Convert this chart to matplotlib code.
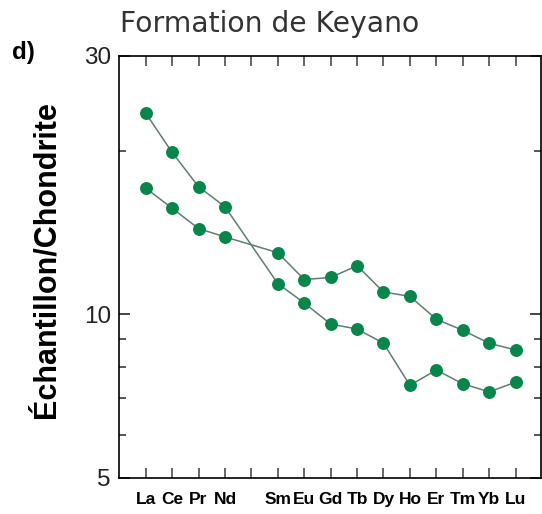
import numpy as np
import matplotlib.pyplot as plt
from matplotlib.ticker import FixedLocator, NullFormatter

# Chondrite-normalised REE pattern
ree_axis = ['La', 'Ce', 'Pr', 'Nd', 'Pm', 'Sm', 'Eu', 'Gd', 'Tb', 'Dy', 'Ho', 'Er', 'Tm', 'Yb', 'Lu']
ree_labels = ['La', 'Ce', 'Pr', 'Nd', '', 'Sm', 'Eu', 'Gd', 'Tb', 'Dy', 'Ho', 'Er', 'Tm', 'Yb', 'Lu']
measured = ['La', 'Ce', 'Pr', 'Nd', 'Sm', 'Eu', 'Gd', 'Tb', 'Dy', 'Ho', 'Er', 'Tm', 'Yb', 'Lu']

sample_a = [23.5, 19.9, 17.2, 15.8, 11.4, 10.5, 9.6, 9.4, 8.85, 7.4, 7.9, 7.45, 7.2, 7.5]
sample_b = [17.1, 15.7, 14.4, 13.9, 13.0, 11.6, 11.7, 12.3, 11.0, 10.8, 9.8, 9.35, 8.85, 8.6]

y_major = [5, 10, 30]
y_minor = [6, 7, 8, 9, 20]

narrow = ['Liberation Sans Narrow', 'Liberation Sans', 'DejaVu Sans']
marker_green = '#07854a'
line_col = '#5f7f6c'

fig = plt.figure(figsize=(5.42, 5.14), dpi=100)
ax = fig.add_axes([0.2201, 0.0706, 0.7775, 0.821])

xpos = [ree_axis.index(el) + 1 for el in measured]
for vals in (sample_a, sample_b):
    ax.plot(xpos, vals, color=line_col, lw=1.1, zorder=2)
    ax.plot(xpos, vals, ls='none', marker='o', ms=8.3, mfc=marker_green,
            mec=marker_green, zorder=3)

ax.set_yscale('log')
ax.set_ylim(5, 30)
ax.set_xlim(0, 15.95)

ax.yaxis.set_major_locator(FixedLocator(y_major))
ax.yaxis.set_minor_locator(FixedLocator(y_minor))
ax.yaxis.set_minor_formatter(NullFormatter())
ax.set_yticklabels([str(v) for v in y_major], family=narrow, fontsize=17.5,
                   color='#222222')

ax.set_xticks(range(1, len(ree_axis) + 1))
ax.set_xticklabels(ree_labels, family=narrow, fontweight='bold', fontsize=12.5)

ax.tick_params(axis='y', which='major', direction='in', length=8, width=1.4,
               color='#444444', left=True, right=True, pad=6)
ax.tick_params(axis='y', which='minor', direction='in', length=5, width=1.4,
               color='#555555', left=True, right=True)
ax.tick_params(axis='x', which='major', direction='in', length=7, width=1.4,
               color='#666666', top=True, bottom=True, pad=10)

for side in ax.spines.values():
    side.set_linewidth(1.2)
    side.set_color('black')

fig.text(120 / 542, 1 - 32 / 514, 'Formation de Keyano', family='DejaVu Sans',
         fontsize=20.3, color='#333333', ha='left', va='baseline')
fig.text(12 / 542, 1 - 52 / 514, 'd)', family=['Liberation Sans', 'DejaVu Sans'],
         fontweight='bold', fontsize=17.5, ha='left', va='center')
fig.text(47 / 542, 1 - 260 / 514, 'Échantillon/Chondrite',
         family=['Liberation Sans', 'DejaVu Sans'], fontweight='bold',
         fontsize=22, rotation=90, ha='center', va='center')

fig.savefig('out.png', dpi=100)
